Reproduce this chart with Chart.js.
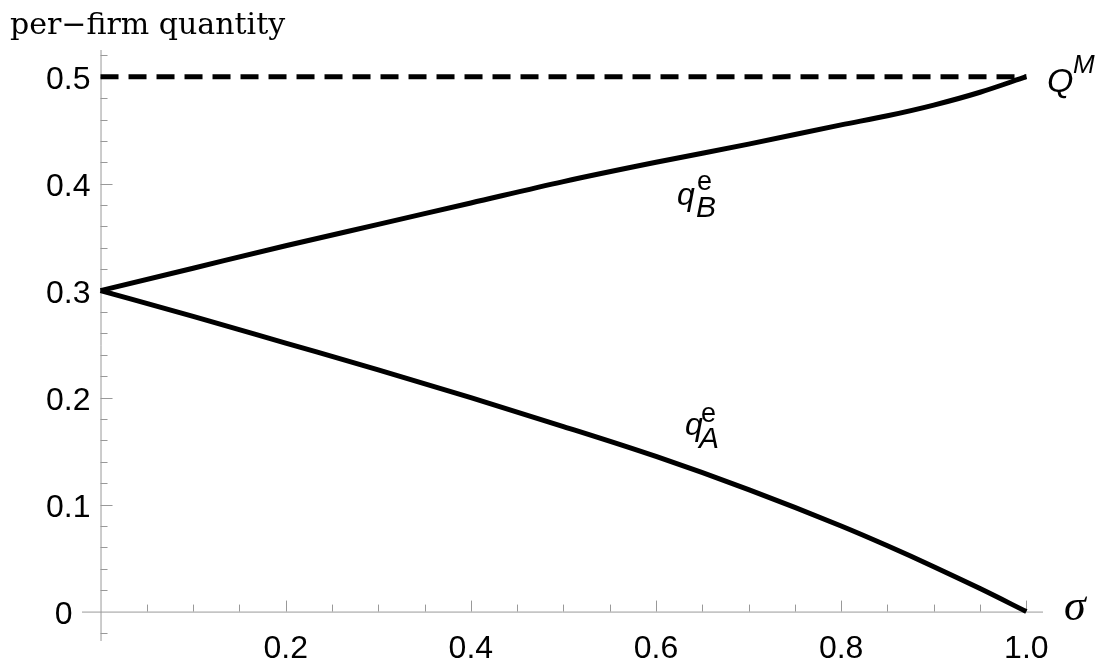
<!DOCTYPE html>
<html>
<head>
<meta charset="utf-8">
<script src="https://cdn.jsdelivr.net/npm/chart.js@4.4.0/dist/chart.umd.min.js"></script>
<style>
  html, body { margin: 0; padding: 0; background: #fff; }
  #wrap { width: 1107px; height: 668px; }
</style>
</head>
<body>
<div id="wrap"><canvas id="chart"></canvas></div>
<script>
// values
const sigma = [0, 0.1, 0.2, 0.3, 0.4, 0.5, 0.6, 0.7, 0.8, 0.85, 0.9, 0.95, 1.0];
const qA = [0.300, 0.276, 0.251, 0.226, 0.200, 0.173, 0.145, 0.114, 0.080, 0.0615, 0.042, 0.0215, 0.000];
const qB = [0.300, 0.321, 0.342, 0.362, 0.382, 0.402, 0.420, 0.437, 0.455, 0.4635, 0.4735, 0.4855, 0.500];
const monoX = [0, 1];
const monoQ = [0.5, 0.5];

const xTicks = [0.2, 0.4, 0.6, 0.8, 1.0];
const xTickLabels = ["0.2", "0.4", "0.6", "0.8", "1.0"];
const yTicks = [0, 0.1, 0.2, 0.3, 0.4, 0.5];
const yTickLabels = ["0", "0.1", "0.2", "0.3", "0.4", "0.5"];

const toPoints = (xs, ys) => xs.map((x, i) => ({ x, y: ys[i] }));

function drawText(ctx, str, x, y, font, align = "left") {
  ctx.font = font;
  ctx.textAlign = align;
  ctx.textBaseline = "alphabetic";
  ctx.fillStyle = "#000";
  ctx.fillText(str, x, y);
}

const axesPlugin = {
  id: "axesPlugin",
  beforeDatasetsDraw(chart) {
    const { ctx, chartArea: a, scales: { x, y } } = chart;
    const x0 = x.getPixelForValue(0);
    const y0 = y.getPixelForValue(0);
    ctx.save();
    ctx.strokeStyle = "#999";
    ctx.lineWidth = 1;
    ctx.beginPath();
    ctx.moveTo(x0 + 0.5, a.top);
    ctx.lineTo(x0 + 0.5, a.bottom);
    ctx.moveTo(a.left, y0 + 0.5);
    ctx.lineTo(a.right, y0 + 0.5);
    // y ticks, minor every 0.02
    for (let i = -1; i <= 26; i++) {
      if (i === 0) continue;
      const py = Math.round(y.getPixelForValue(i * 0.02)) + 0.5;
      const len = i % 5 === 0 ? 12 : 7;
      ctx.moveTo(x0, py);
      ctx.lineTo(x0 + len, py);
    }
    // x ticks, minor every 0.05
    for (let i = 1; i <= 20; i++) {
      const px = Math.round(x.getPixelForValue(i * 0.05)) + 0.5;
      const len = i % 4 === 0 ? 11 : 7;
      ctx.moveTo(px, y0);
      ctx.lineTo(px, y0 - len);
    }
    ctx.stroke();
    ctx.restore();
  },
  afterDraw(chart) {
    const { ctx, scales: { x, y } } = chart;
    const x0 = x.getPixelForValue(0);
    const y0 = y.getPixelForValue(0);
    ctx.save();
    const tickFont = "32px 'Liberation Sans', Arial, sans-serif";
    xTicks.forEach((v, i) => {
      drawText(ctx, xTickLabels[i], x.getPixelForValue(v), y0 + 46, tickFont, "center");
    });
    yTicks.forEach((v, i) => {
      const right = v === 0 ? x0 - 28 : x0 - 10;
      drawText(ctx, yTickLabels[i], right, y.getPixelForValue(v) + 12, tickFont, "right");
    });

    drawText(ctx, "per\u2212firm quantity", 10, 34, "30px 'DejaVu Serif', serif");

    // curve labels
    const it = (s) => `italic ${s}px 'Liberation Sans', Arial, sans-serif`;
    const up = (s) => `${s}px 'Liberation Sans', Arial, sans-serif`;
    drawText(ctx, "q", 677, 205, it(32));
    drawText(ctx, "e", 697, 190, up(27));
    drawText(ctx, "B", 696, 217, it(30));

    drawText(ctx, "q", 685, 435, it(32));
    drawText(ctx, "e", 701, 422, up(27));
    drawText(ctx, "A", 699, 448, it(30));

    drawText(ctx, "Q", 1047, 92, it(34));
    drawText(ctx, "M", 1073, 73, it(26));

    drawText(ctx, "\u03c3", 1064, 620, "italic 44px 'Liberation Serif', 'Times New Roman', serif");
    ctx.restore();
  }
};

new Chart(document.getElementById("chart"), {
  type: "line",
  data: {
    datasets: [
      {
        label: "QM",
        data: toPoints(monoX, monoQ),
        borderColor: "#000",
        borderWidth: 5,
        borderDash: [18, 10],
        pointRadius: 0,
        fill: false,
      },
      {
        label: "qB",
        data: toPoints(sigma, qB),
        borderColor: "#000",
        borderWidth: 5,
        pointRadius: 0,
        cubicInterpolationMode: "monotone",
        fill: false,
      },
      {
        label: "qA",
        data: toPoints(sigma, qA),
        borderColor: "#000",
        borderWidth: 5,
        pointRadius: 0,
        cubicInterpolationMode: "monotone",
        fill: false,
      },
    ],
  },
  options: {
    responsive: true,
    maintainAspectRatio: false,
    animation: false,
    layout: { padding: { left: 82, right: 64, top: 50, bottom: 27 } },
    scales: {
      x: { type: "linear", min: -0.02, max: 1.018, display: false },
      y: { type: "linear", min: -0.0275, max: 0.525, display: false },
    },
    plugins: {
      legend: { display: false },
      tooltip: { enabled: false },
    },
    elements: { line: { borderJoinStyle: "round" } },
  },
  plugins: [axesPlugin],
});
</script>
</body>
</html>
